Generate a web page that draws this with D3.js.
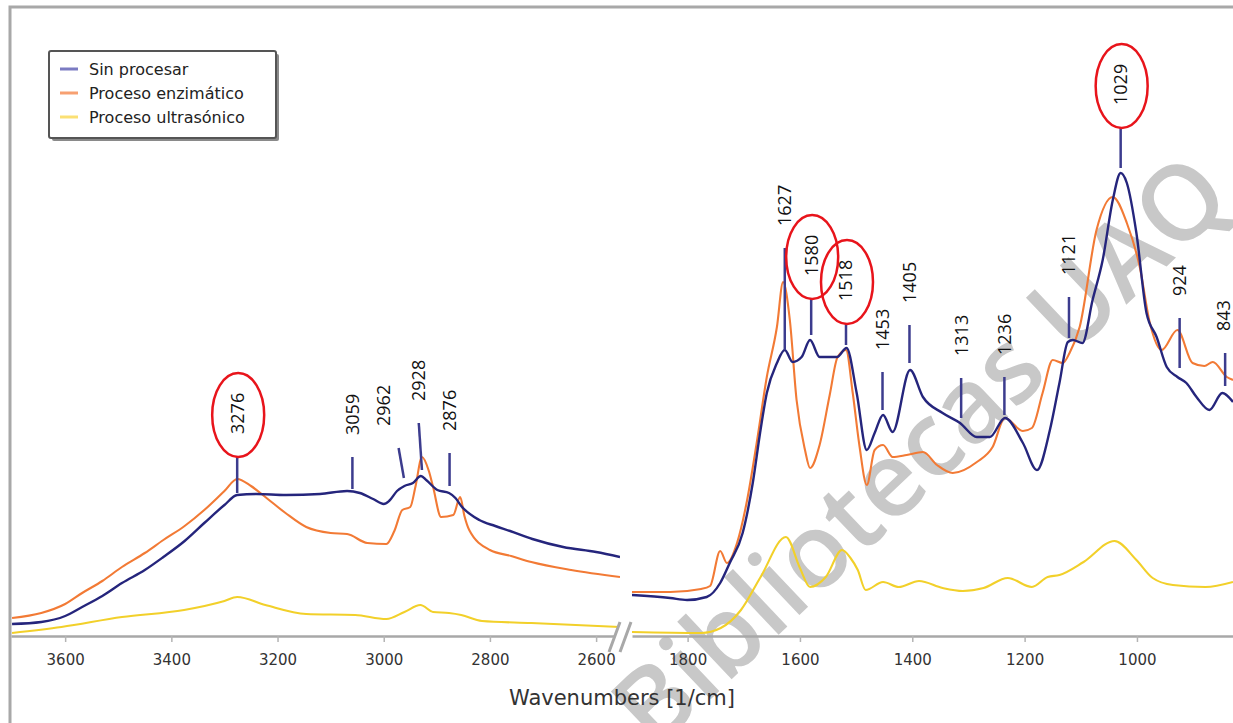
<!DOCTYPE html>
<html>
<head>
<meta charset="utf-8">
<script src="https://cdn.jsdelivr.net/npm/d3@7"></script>
<style>
  body { margin: 0; background: #fff; }
  svg { display: block; }
</style>
</head>
<body>
<div class="vis"></div>
<script>
  // series names
  const seriesNames = ["Sin procesar", "Proceso enzimático", "Proceso ultrasónico"];

  // [wavenumber, absorbance], high window 3700-2555
  const sinHigh = [[3700,0.012],[3645,0.014],[3600,0.020],[3568,0.029],[3530,0.040],[3493,0.053],[3450,0.066],[3415,0.079],[3375,0.095],[3338,0.113],[3300,0.131],[3276,0.141],[3240,0.142],[3184,0.141],[3120,0.142],[3069,0.145],[3045,0.143],[3020,0.137],[3000,0.132],[2990,0.135],[2975,0.145],[2961,0.150],[2945,0.153],[2930,0.160],[2920,0.156],[2899,0.146],[2877,0.143],[2865,0.138],[2854,0.130],[2820,0.116],[2790,0.110],[2762,0.105],[2720,0.097],[2662,0.089],[2600,0.084],[2555,0.079]];
  const enzHigh = [[3700,0.018],[3645,0.023],[3600,0.032],[3568,0.043],[3530,0.055],[3493,0.069],[3450,0.083],[3415,0.096],[3375,0.110],[3338,0.126],[3300,0.145],[3276,0.157],[3250,0.150],[3223,0.139],[3185,0.123],[3146,0.109],[3100,0.103],[3069,0.102],[3031,0.093],[2995,0.092],[2980,0.105],[2965,0.126],[2950,0.129],[2940,0.150],[2928,0.179],[2915,0.165],[2907,0.149],[2892,0.119],[2869,0.121],[2856,0.139],[2848,0.120],[2839,0.106],[2800,0.086],[2760,0.080],[2722,0.074],[2647,0.066],[2555,0.059]];
  const ultHigh = [[3700,0.003],[3607,0.009],[3493,0.019],[3376,0.026],[3300,0.035],[3276,0.039],[3223,0.031],[3146,0.022],[3054,0.021],[2995,0.017],[2961,0.024],[2931,0.031],[2907,0.024],[2877,0.023],[2854,0.021],[2815,0.015],[2722,0.013],[2555,0.009]];

  // low window 1899-829
  const sinLow = [[1899,0.041],[1831,0.038],[1801,0.036],[1766,0.039],[1742,0.053],[1725,0.073],[1702,0.103],[1684,0.153],[1671,0.203],[1659,0.243],[1641,0.273],[1627,0.286],[1613,0.274],[1597,0.279],[1582,0.296],[1565,0.279],[1534,0.279],[1517,0.288],[1499,0.243],[1481,0.186],[1467,0.203],[1452,0.221],[1435,0.204],[1404,0.266],[1381,0.239],[1346,0.223],[1315,0.213],[1285,0.199],[1262,0.199],[1235,0.218],[1203,0.193],[1178,0.166],[1155,0.206],[1138,0.253],[1123,0.294],[1114,0.296],[1097,0.293],[1079,0.336],[1061,0.376],[1043,0.436],[1029,0.463],[1018,0.453],[1001,0.403],[983,0.323],[965,0.299],[947,0.269],[928,0.259],[912,0.253],[894,0.239],[871,0.226],[848,0.243],[829,0.234]];
  const enzLow = [[1899,0.044],[1831,0.044],[1776,0.047],[1760,0.050],[1742,0.085],[1730,0.073],[1712,0.093],[1694,0.136],[1677,0.193],[1659,0.259],[1641,0.309],[1630,0.354],[1618,0.316],[1606,0.236],[1591,0.186],[1582,0.168],[1565,0.191],[1547,0.241],[1533,0.279],[1518,0.286],[1506,0.243],[1494,0.190],[1481,0.151],[1467,0.186],[1452,0.191],[1435,0.179],[1410,0.181],[1381,0.184],[1356,0.171],[1328,0.163],[1285,0.174],[1257,0.189],[1235,0.218],[1203,0.205],[1187,0.208],[1168,0.243],[1150,0.276],[1132,0.273],[1120,0.283],[1102,0.309],[1072,0.406],[1043,0.439],[1018,0.413],[995,0.369],[977,0.313],[956,0.286],[928,0.306],[901,0.273],[880,0.270],[865,0.274],[840,0.259],[829,0.256]];
  const ultLow = [[1899,0.004],[1776,0.003],[1741,0.008],[1705,0.026],[1670,0.059],[1625,0.099],[1600,0.068],[1582,0.049],[1554,0.059],[1525,0.086],[1510,0.078],[1497,0.066],[1483,0.046],[1452,0.054],[1424,0.049],[1388,0.055],[1346,0.048],[1310,0.045],[1273,0.048],[1230,0.058],[1187,0.049],[1159,0.059],[1138,0.061],[1095,0.074],[1040,0.095],[1001,0.076],[972,0.058],[936,0.051],[878,0.049],[829,0.054]];

  // peak marks: wavenumber, top and base of the mark (absorbance), lean of the top (cm-1)
  const peakWn   = [3276, 3059, 2962, 2928, 2876, 1627, 1580, 1518, 1453, 1405, 1313, 1236, 1121, 1029, 924, 843];
  const peakTop  = [0.180,0.179,0.188,0.213,0.183,0.388,0.338,0.313,0.264,0.311,0.258,0.259,0.339,0.509,0.318,0.283];
  const peakBase = [0.143,0.147,0.158,0.166,0.150,0.286,0.301,0.291,0.226,0.273,0.218,0.221,0.298,0.468,0.268,0.250];
  const peakLean = [0, 0, 10, 6, 0, 0, 0, 0, 0, 0, 0, 0, 0, 0, 0, 0];
  const circled  = [3276, 1580, 1518, 1029];

  // axis ticks
  const highTicks = [3600, 3400, 3200, 3000, 2800, 2600];
  const lowTicks = [1800, 1600, 1400, 1200, 1000];

  const width = 1233, height = 723;
  const colors = ["#25257c", "#f27a35", "#f2d02a"];
  const swatch = ["#7b7bc2", "#f7a071", "#fbe074"];
  // small sideways nudge of a few crowded labels (px)
  const labelNudge = {2962: -15, 843: -2};

  const svg = d3.select('.vis').append('svg')
    .attr("width", width).attr("height", height)
    .attr("viewBox", [0, 0, width, height]);

  const y = d3.scaleLinear().domain([0, 0.628]).range([636, 8]);
  const xHigh = d3.scaleLinear().domain([3702, 2555]).range([11, 620]);
  const xLow = d3.scaleLinear().domain([1899, 829]).range([632, 1233]);

  // watermark, under the plot
  svg.append("text")
    .attr("transform", "translate(655,752) rotate(-43.5)")
    .attr("fill", "#c8c8c8")
    .attr("textLength", 800)
    .attr("lengthAdjust", "spacingAndGlyphs")
    .style("font-family", "Open Sans")
    .style("font-weight", 600)
    .style("font-size", "104px")
    .text("Bibliotecas UAQ");

  // frame
  svg.append("path")
    .attr("d", `M10,${height} V7 H${width}`)
    .attr("fill", "none").attr("stroke", "#a8a8a8").attr("stroke-width", 3);

  // clip paths for both windows
  const defs = svg.append("defs");
  defs.append("clipPath").attr("id", "clipHigh").append("rect")
    .attr("x", 11).attr("y", 8).attr("width", 609).attr("height", 628);
  defs.append("clipPath").attr("id", "clipLow").append("rect")
    .attr("x", 632).attr("y", 8).attr("width", 601).attr("height", 628);

  function drawSeries(x, clip, sets) {
    const g = svg.append("g").attr("clip-path", `url(#${clip})`);
    const line = d3.line()
      .x(d => x(d[0]))
      .y(d => y(d[1]))
      .curve(d3.curveMonotoneX);
    // draw yellow, orange, blue so blue ends on top
    [2, 1, 0].forEach(i => {
      g.append("path")
        .datum(sets[i])
        .attr("d", line)
        .attr("fill", "none")
        .attr("stroke", colors[i])
        .attr("stroke-width", i == 0 ? 2.4 : 2.1)
        .attr("stroke-linejoin", "round");
    });
  }
  drawSeries(xHigh, "clipHigh", [sinHigh, enzHigh, ultHigh]);
  drawSeries(xLow, "clipLow", [sinLow, enzLow, ultLow]);

  // axes
  function drawAxis(x, ticks) {
    const d = x.domain();
    const minor = d3.range(Math.ceil(d[1] / 50) * 50, d[0], 50);
    const g = svg.append("g").attr("transform", "translate(0,636)");
    g.call(d3.axisBottom(x).tickValues(minor).tickSize(6).tickSizeOuter(0).tickFormat(""));
    g.call(d3.axisBottom(x).tickValues(ticks).tickSize(6).tickSizeOuter(0).tickPadding(12).tickFormat(d3.format("d")));
    g.selectAll(".domain").attr("stroke", "#a8a8a8").attr("stroke-width", 2.5);
    g.selectAll(".tick line").attr("stroke", "#b4b4b4").attr("stroke-width", 1.5);
    g.selectAll(".tick text")
      .attr("fill", "#333")
      .style("font-family", "DejaVu Sans")
      .style("font-size", "15px");
  }
  drawAxis(xHigh, highTicks);
  drawAxis(xLow, lowTicks);

  // axis break
  svg.append("path")
    .attr("d", "M609,652 L620,622 L631,622 L620,652 Z")
    .attr("fill", "#fff");
  svg.append("path")
    .attr("d", "M609,652 L620,622 M620,652 L631,622")
    .attr("stroke", "#a8a8a8").attr("stroke-width", 3).attr("fill", "none");

  svg.append("text")
    .attr("x", 622).attr("y", 705)
    .attr("text-anchor", "middle")
    .attr("fill", "#333")
    .style("font-family", "DejaVu Sans")
    .style("font-size", "21px")
    .text("Wavenumbers [1/cm]");

  // peak marks and labels
  const peaks = peakWn.map((wn, i) => {
    const x = wn > 2000 ? xHigh : xLow;
    return {
      wn: wn,
      x0: x(wn), y0: y(peakBase[i]),
      x1: x(wn + peakLean[i]), y1: y(peakTop[i]),
      tx: x(wn + peakLean[i]) + (labelNudge[wn] || 0)
    };
  });
  const labelGap = 22, labelLen = 42;

  svg.append("g").selectAll("line")
    .data(peaks)
    .join("line")
    .attr("x1", d => d.x0).attr("y1", d => d.y0)
    .attr("x2", d => d.x1).attr("y2", d => d.y1)
    .attr("stroke", "#3c3c8e").attr("stroke-width", 2.5);

  svg.append("g").selectAll("text")
    .data(peaks)
    .join("text")
    .attr("transform", d => `translate(${d.tx},${d.y1 - labelGap}) rotate(-90)`)
    .attr("dy", "0.36em")
    .attr("fill", "#111")
    .style("font-family", "Open Sans")
    .style("font-size", "18px")
    .text(d => d.wn);

  svg.append("g").selectAll("ellipse")
    .data(peaks.filter(d => circled.includes(d.wn)))
    .join("ellipse")
    .attr("cx", d => d.tx + 1)
    .attr("cy", d => d.y1 - labelGap - labelLen / 2 + 2)
    .attr("rx", 26).attr("ry", 42)
    .attr("fill", "none")
    .attr("stroke", "#e8141b").attr("stroke-width", 2.5);

  // legend
  const legend = svg.append("g").attr("transform", "translate(49,51)");
  legend.append("rect")
    .attr("x", 3).attr("y", 3).attr("width", 227).attr("height", 87)
    .attr("fill", "#8a8a8a").attr("rx", 2);
  legend.append("rect")
    .attr("width", 227).attr("height", 87)
    .attr("fill", "#fff").attr("stroke", "#555").attr("stroke-width", 2).attr("rx", 2);
  const items = legend.selectAll("g.item")
    .data(seriesNames)
    .join("g")
    .attr("class", "item")
    .attr("transform", (d, i) => `translate(0,${18 + i * 24})`);
  items.append("line")
    .attr("x1", 11).attr("x2", 29)
    .attr("stroke", (d, i) => swatch[i]).attr("stroke-width", 3);
  items.append("text")
    .attr("x", 40).attr("dy", "0.35em")
    .attr("fill", "#222")
    .style("font-family", "DejaVu Sans")
    .style("font-size", "16px")
    .text(d => d);
</script>
</body>
</html>
